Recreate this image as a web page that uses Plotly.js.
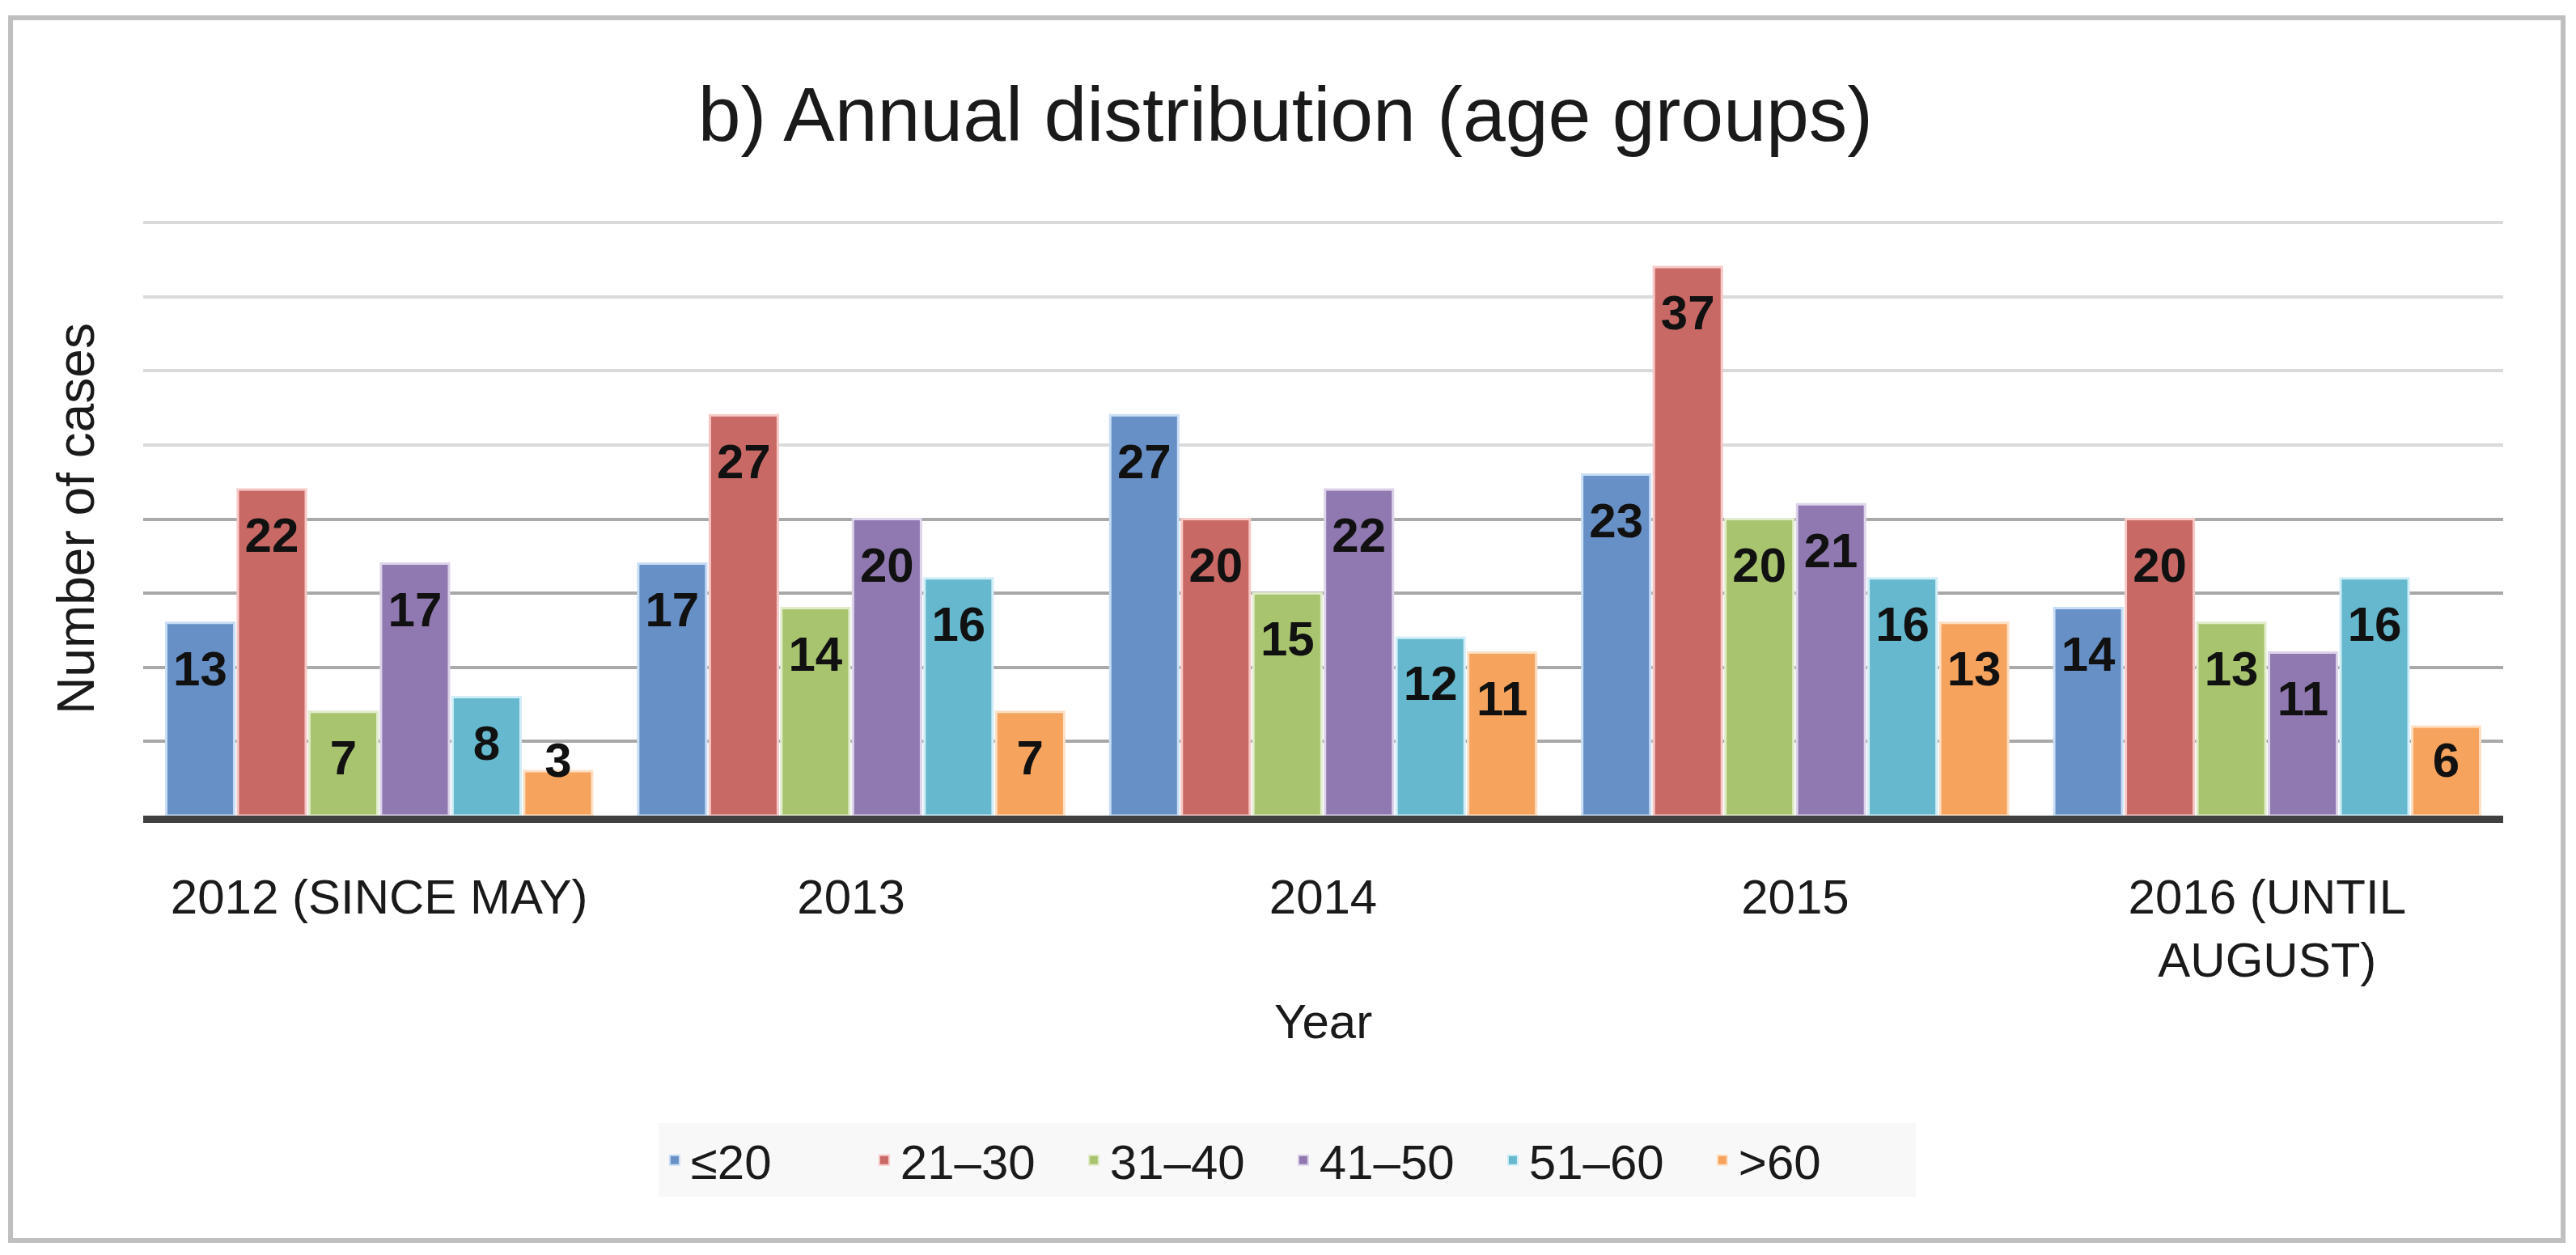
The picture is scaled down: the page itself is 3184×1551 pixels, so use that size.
<!DOCTYPE html>
<html>
<head>
<meta charset="utf-8">
<script src="https://cdn.plot.ly/plotly-3.0.1.min.js"></script>
<style>
  html, body { margin: 0; padding: 0; background: #ffffff; }
  #chart { width: 3184px; height: 1551px; }
</style>
</head>
<body>
<div id="chart"></div>
<script>
// ---- data ----
const categories = ["2012 (SINCE MAY)", "2013", "2014", "2015", "2016 (UNTIL AUGUST)"];
const tickLabels = ["2012 (SINCE MAY)", "2013", "2014", "2015", "2016 (UNTIL<br>AUGUST)"];
const groupNames = ["≤20", "21–30", "31–40", "41–50", "51–60", ">60"];
const ageLe20 = [13, 17, 27, 23, 14];
const age21to30 = [22, 27, 20, 37, 20];
const age31to40 = [7, 14, 15, 20, 13];
const age41to50 = [17, 20, 22, 21, 11];
const age51to60 = [8, 16, 12, 16, 16];
const ageGt60 = [3, 7, 11, 13, 6];
const lowerGridTicks = [5, 10, 15, 20];
const upperGridTicks = [25, 30, 35, 40];
const chartTitle = "b) Annual distribution (age groups)";
const xTitle = "Year";
const yTitle = "Number of cases";

// ---- styling ----
const series = [ageLe20, age21to30, age31to40, age41to50, age51to60, ageGt60];
const fillColors = ["#6790c6", "#c96966", "#a8c46e", "#9079b0", "#66b8ce", "#f6a35e"];
const edgeColors = ["#c9def5", "#f6c9c6", "#e1eccb", "#ddd3ea", "#cfeef7", "#fde0c4"];
const FONT = "Liberation Sans, Arial, sans-serif";
const BAR_GAP = 0.09;
const Y_RANGE = [0, 40.06];

const traces = [];
series.forEach((vals, i) => {
  traces.push({
    type: "bar",
    name: groupNames[i],
    x: categories,
    y: vals,
    marker: { color: fillColors[i], line: { color: edgeColors[i], width: 3 } },
    hoverinfo: "x+y+name"
  });
});
// value labels placed inside the bar, near its top (Excel "inside end" style)
series.forEach((vals, i) => {
  traces.push({
    type: "scatter",
    mode: "text",
    showlegend: false,
    hoverinfo: "skip",
    x: categories,
    y: vals.map(v => Math.max(v - 3.4, 3.45)),
    text: vals.map(String),
    textposition: "middle center",
    textfont: { family: FONT, size: 60, color: "#111111", weight: "bold" },
    cliponaxis: false
  });
});
// empty helper trace so the overlaying axis (lighter upper gridlines) is drawn
traces.push({
  type: "scatter", mode: "lines", x: [categories[0]], y: [null],
  yaxis: "y2", showlegend: false, hoverinfo: "skip"
});

const layout = {
  width: 3184,
  height: 1551,
  paper_bgcolor: "#ffffff",
  plot_bgcolor: "rgba(0,0,0,0)",
  margin: { l: 177, r: 90, t: 274, b: 543 },
  barmode: "group",
  bargap: BAR_GAP,
  bargroupgap: 0.05,
  scattermode: "group",
  scattergap: BAR_GAP,
  font: { family: FONT, color: "#1a1a1a" },
  title: {
    text: chartTitle,
    font: { family: FONT, size: 95, color: "#1a1a1a" },
    x: 0.499, xanchor: "center", xref: "container",
    y: 0.909, yanchor: "middle", yref: "container"
  },
  xaxis: {
    type: "category",
    tickvals: categories,
    ticktext: tickLabels,
    tickfont: { family: FONT, size: 60, color: "#1a1a1a" },
    ticks: "",
    ticklabelstandoff: 40,
    showline: true,
    linecolor: "#404040",
    linewidth: 9,
    showgrid: false,
    zeroline: false,
    title: { text: xTitle, font: { family: FONT, size: 60, color: "#1a1a1a" }, standoff: 25 }
  },
  yaxis: {
    range: Y_RANGE,
    tickvals: lowerGridTicks,
    showticklabels: false,
    ticks: "",
    showgrid: true,
    gridcolor: "#a9a9a9",
    gridwidth: 4,
    zeroline: false,
    showline: false,
    title: { text: yTitle, font: { family: FONT, size: 64, color: "#1a1a1a" }, standoff: 38 }
  },
  yaxis2: {
    overlaying: "y",
    anchor: "x",
    side: "left",
    range: Y_RANGE,
    tickvals: upperGridTicks,
    showticklabels: false,
    ticks: "",
    showgrid: true,
    gridcolor: "#dadada",
    gridwidth: 4,
    zeroline: false,
    showline: false
  },
  legend: {
    orientation: "h",
    x: 0.4847, xanchor: "center",
    y: -0.58, yanchor: "middle",
    bgcolor: "#f8f8f8",
    borderwidth: 0,
    entrywidth: 214,
    entrywidthmode: "pixels",
    font: { family: FONT, size: 60, color: "#1a1a1a" },
    itemsizing: "constant"
  },
  shapes: [{
    type: "rect", xref: "paper", yref: "paper", layer: "below",
    x0: -0.0562, x1: 1.0254, y0: -0.7153, y1: 1.3433,
    line: { color: "#bfbfbf", width: 6 }, fillcolor: "rgba(0,0,0,0)"
  }],
  showlegend: true
};

Plotly.newPlot("chart", traces, layout, { displayModeBar: false, responsive: false });
</script>
</body>
</html>
